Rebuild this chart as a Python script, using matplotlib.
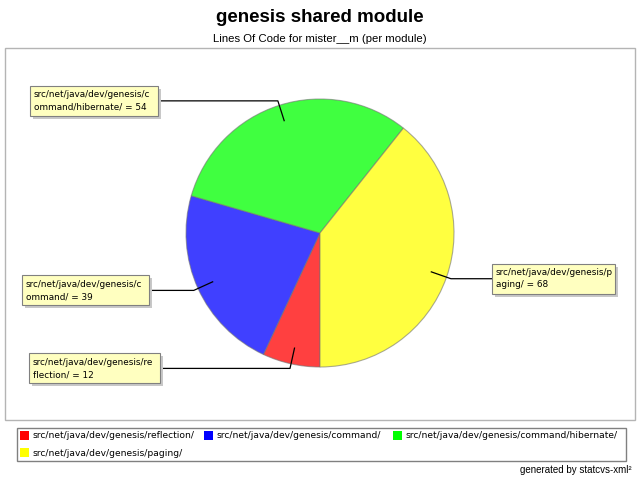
import numpy as np
import matplotlib
matplotlib.use("Agg")
import matplotlib.pyplot as plt
from matplotlib.patches import Rectangle

plt.rcParams['font.family'] = ['Liberation Sans', 'DejaVu Sans']

# データ
modules = ['src/net/java/dev/genesis/reflection/',
           'src/net/java/dev/genesis/command/',
           'src/net/java/dev/genesis/command/hibernate/',
           'src/net/java/dev/genesis/paging/']
loc = [12, 39, 54, 68]
wrap_at = [27, 26, 26, 26]   # ラベルの折り返し位置

title = 'genesis shared module'
subtitle = 'Lines Of Code for mister__m (per module)'
footer = 'generated by statcvs-xml\u00b2'

slice_colors = ['#ff4040', '#4040ff', '#40ff40', '#ffff40']
legend_colors = ['#ff0000', '#0000ff', '#00ff00', '#ffff00']

# ラベルボックスの配置 (左端x, 幅)
box_x = [29, 22, 30, 492]
box_w = [131, 127, 128, 123]

W, H = 640, 480
CX, CY, R = 320, H - 233, 134

fig = plt.figure(figsize=(6.4, 4.8), dpi=100)
ax = fig.add_axes([0, 0, 1, 1])

# 円グラフ
wedges, _ = ax.pie(loc, colors=slice_colors, startangle=270, counterclock=False,
                   center=(CX, CY), radius=R, frame=True,
                   wedgeprops=dict(edgecolor=(0.45, 0.45, 0.45, 0.6), linewidth=0.8))
ax.set_xlim(0, W)
ax.set_ylim(0, H)
ax.set_aspect('equal')
ax.axis('off')

# プロット領域の枠
ax.add_patch(Rectangle((5, H - 420), 630, 372, fill=False, edgecolor='#b4b4b4', lw=1.0, zorder=1))

# タイトル
ax.text(W / 2, H - 17, title, ha='center', va='center', fontsize=13.5, fontweight='bold')
ax.text(W / 2, H - 39, subtitle, ha='center', va='center', fontsize=8.2)

# ラベルと引き出し線
total = sum(loc)
start = 270.0
for i, (name, v) in enumerate(zip(modules, loc)):
    span = v / total * 360.0
    mid = np.radians(start - span / 2)
    start -= span
    ex, ey = CX + R * 1.035 * np.cos(mid), CY + R * 1.035 * np.sin(mid)
    axp, ayp = CX + R * 0.88 * np.cos(mid), CY + R * 0.88 * np.sin(mid)
    bx, bw, bh = box_x[i], box_w[i], 30
    by = ey - bh / 2
    edge_x = bx + bw if bx < CX else bx
    ax.plot([edge_x, ex, axp], [ey, ey, ayp], color='black', lw=0.9, zorder=5)
    ax.add_patch(Rectangle((bx + 3, by - 3), bw, bh, facecolor='#c8c8c8', edgecolor='none', zorder=6))
    ax.add_patch(Rectangle((bx, by), bw, bh, facecolor='#ffffc0', edgecolor='#808080', lw=0.8, zorder=7))
    label = f'{name} = {v}'
    text = label[:wrap_at[i]] + '\n' + label[wrap_at[i]:]
    ax.text(bx + 4, ey, text, ha='left', va='center', fontsize=6.4,
            family='DejaVu Sans', linespacing=1.5, zorder=8)

# 凡例
ax.add_patch(Rectangle((17, H - 461), 609, 33, fill=False, edgecolor='#808080', lw=1.0))
leg_pos = [(20, 436), (204, 436), (393, 436), (20, 453)]
for (lx, ly), name, c in zip(leg_pos, modules, legend_colors):
    ax.add_patch(Rectangle((lx, H - ly - 4), 9, 9, facecolor=c, edgecolor='none'))
    ax.text(lx + 12, H - ly, name, ha='left', va='center', fontsize=6.6,
            family='DejaVu Sans')

ax.text(632, H - 470, footer, ha='right', va='center', fontsize=7)

fig.savefig('out.png', dpi=100)
